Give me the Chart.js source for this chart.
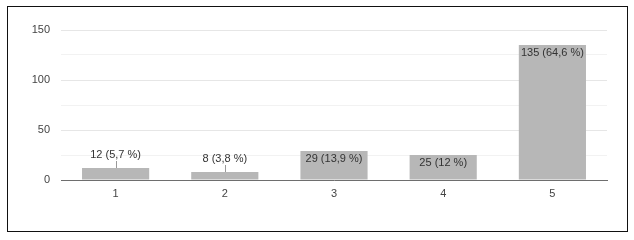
<!DOCTYPE html>
<html><head><meta charset="utf-8">
<script src="https://cdn.jsdelivr.net/npm/chart.js@4.4.0/dist/chart.umd.min.js"></script>
<style>
html,body{margin:0;padding:0;background:#fff;}
#wrap{position:relative;width:634px;height:240px;}
#frame{position:absolute;left:7px;top:6px;width:621px;height:226px;border:1px solid #111;box-sizing:border-box;pointer-events:none;}
canvas{position:absolute;left:0;top:0;}
</style></head>
<body>
<div id="wrap"><canvas id="c" width="634" height="240"></canvas><div id="frame"></div></div>
<script>
const categories = ["1","2","3","4","5"];
const counts = [12, 8, 29, 25, 135];
const percentLabels = ["5,7 %", "3,8 %", "13,9 %", "12 %", "64,6 %"];
const yTicks = [0, 50, 100, 150];

const labelPlugin = {
  id: 'barLabels',
  afterDatasetsDraw(chart) {
    const ctx = chart.ctx;
    const meta = chart.getDatasetMeta(0);
    ctx.save();
    ctx.font = '11px "Liberation Sans", Arial, sans-serif';
    ctx.textAlign = 'center';
    ctx.textBaseline = 'middle';
    meta.data.forEach((bar, i) => {
      const txt = counts[i] + ' (' + percentLabels[i] + ')';
      const h = bar.base - bar.y;
      ctx.fillStyle = '#333';
      if (h >= 16) {
        ctx.fillText(txt, bar.x, bar.y + 8);
      } else {
        ctx.fillText(txt, bar.x, bar.y - 13);
        ctx.strokeStyle = '#999';
        ctx.lineWidth = 1;
        ctx.beginPath();
        ctx.moveTo(Math.round(bar.x) + 0.5, bar.y - 7);
        ctx.lineTo(Math.round(bar.x) + 0.5, bar.y);
        ctx.stroke();
      }
    });
    ctx.restore();
  }
};

new Chart(document.getElementById('c'), {
  type: 'bar',
  data: {
    labels: categories,
    datasets: [{
      data: counts,
      backgroundColor: '#b7b7b7',
      borderWidth: 0,
      barPercentage: 0.615,
      categoryPercentage: 1.0
    }]
  },
  options: {
    responsive: false,
    animation: false,
    devicePixelRatio: 1,
    layout: { padding: { top: 30, right: 27, left: 0, bottom: 0 } },
    plugins: { legend: { display: false }, tooltip: { enabled: false } },
    scales: {
      x: {
        grid: { display: false, drawTicks: false },
        border: { display: true, color: '#6e6e6e', width: 1 },
        ticks: { color: '#444', font: { size: 11, family: '"Liberation Sans", Arial, sans-serif' }, padding: 7 },
        afterFit(s) { s.height = 60; }
      },
      y: {
        min: 0, max: 150,
        grid: { color: (c) => (c.tick && c.tick.value % 50 === 0) ? '#e6e6e6' : '#f2f2f2', drawTicks: false },
        border: { display: false },
        ticks: {
          stepSize: 25,
          color: '#444',
          font: { size: 11, family: '"Liberation Sans", Arial, sans-serif' },
          padding: 11,
          callback: (v) => yTicks.includes(v) ? String(v) : ''
        },
        afterFit(s) { s.width = 61; }
      }
    }
  },
  plugins: [labelPlugin]
});
</script>
</body></html>
